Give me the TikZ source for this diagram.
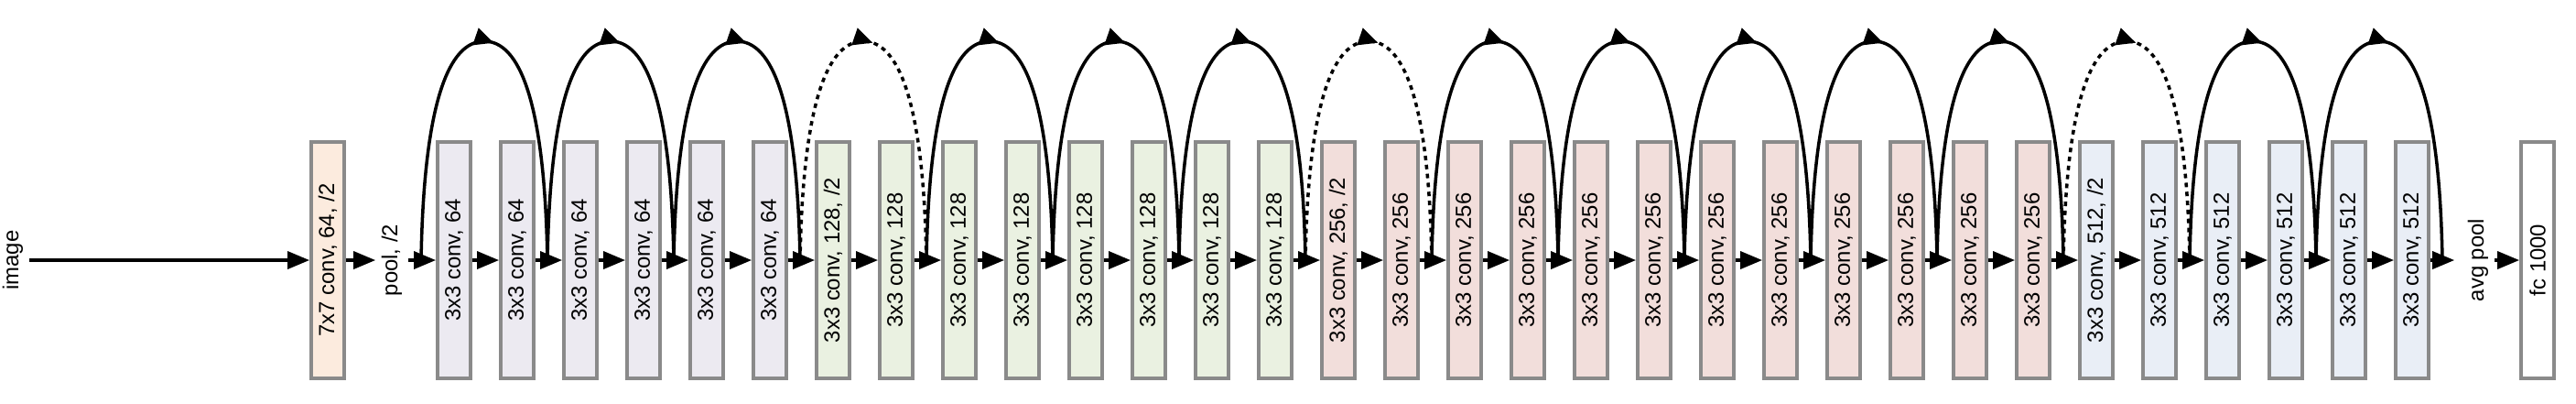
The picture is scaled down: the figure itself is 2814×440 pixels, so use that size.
\documentclass[tikz,border=0pt]{standalone}
\usepackage{fontspec}
\setmainfont{Liberation Sans}
\usetikzlibrary{arrows.meta,decorations.markings}

\definecolor{c7}{HTML}{FCEBDE}
\definecolor{c64}{HTML}{ECEAF1}
\definecolor{c128}{HTML}{EAF1E1}
\definecolor{c256}{HTML}{F2DEDB}
\definecolor{c512}{HTML}{E9EEF6}
\definecolor{edge}{HTML}{8A8A8A}

\tikzset{
  layer/.style={draw=edge, line width=1.1pt, rotate=90, minimum width=25.8mm, minimum height=3.6mm, inner sep=0pt, font=\fontsize{6.8pt}{8pt}\selectfont},
  lbl/.style={rotate=90, inner sep=0.6mm, font=\fontsize{6.8pt}{8pt}\selectfont},
  flow/.style={-{Triangle[length=2.4mm,width=1.9mm]}, line width=1pt},
  skip/.style={line width=1pt, postaction={decorate}, decoration={markings, mark=at position 0.52 with {\arrow{Triangle[length=2.1mm,width=1.9mm]}}}},
  skipdot/.style={skip, dash pattern=on 1.4pt off 1.4pt},
}

\begin{document}
\begin{tikzpicture}[x=0.1mm,y=0.1mm]
    \useasboundingbox (0,0) rectangle (2814,440);
    % input and first layers
    \node[lbl] (img) at (14,156) {image};
    \node[layer, fill=c7] (conv1) at (358,156) {7x7 conv, 64, /2};
    \node[lbl] (pool) at (428,156) {pool, /2};
    % stages
    \foreach \k in {1,...,6}
        \node[layer, fill=c64] (b\k) at ({496+69*(\k-1)},156) {3x3 conv, 64};
    \node[layer, fill=c128] (b7) at (910,156) {3x3 conv, 128, /2};
    \foreach \k in {8,...,14}
        \node[layer, fill=c128] (b\k) at ({496+69*(\k-1)},156) {3x3 conv, 128};
    \node[layer, fill=c256] (b15) at (1462,156) {3x3 conv, 256, /2};
    \foreach \k in {16,...,26}
        \node[layer, fill=c256] (b\k) at ({496+69*(\k-1)},156) {3x3 conv, 256};
    \node[layer, fill=c512] (b27) at (2290,156) {3x3 conv, 512, /2};
    \foreach \k in {28,...,32}
        \node[layer, fill=c512] (b\k) at ({496+69*(\k-1)},156) {3x3 conv, 512};
    \node[lbl] (avg) at (2707,156) {avg pool};
    \node[layer, fill=white] (fc) at (2772,156) {fc 1000};
    % main flow
    \draw[flow] (img.south) -- (conv1.north);
    \draw[flow] (conv1.south) -- (pool.north);
    \draw[flow] (pool.south) -- (b1.north);
    \foreach \k [evaluate=\k as \n using int(\k+1)] in {1,...,31}
        \draw[flow] (b\k.south) -- (b\n.north);
    \draw[flow, shorten >=0.8mm] (b32.south) -- (avg.north);
    \draw[flow] (avg.south) -- (fc.north);
    % shortcuts
    \foreach \k in {1,3,...,33}
        \coordinate (s\k) at ({460+69*(\k-1)},156);
    \foreach \a/\b/\sty in {1/3/skip,3/5/skip,5/7/skip,7/9/skipdot,9/11/skip,11/13/skip,13/15/skip,
            15/17/skipdot,17/19/skip,19/21/skip,21/23/skip,23/25/skip,25/27/skip,
            27/29/skipdot,29/31/skip,31/33/skip}{
        \coordinate (t\a) at ({460+69*\a},395);
        \draw[\sty] (s\a) .. controls +(3,175) and +(-38,0) .. (t\a)
            .. controls +(38,0) and +(-3,175) .. (s\b);
    }
\end{tikzpicture}
\end{document}
